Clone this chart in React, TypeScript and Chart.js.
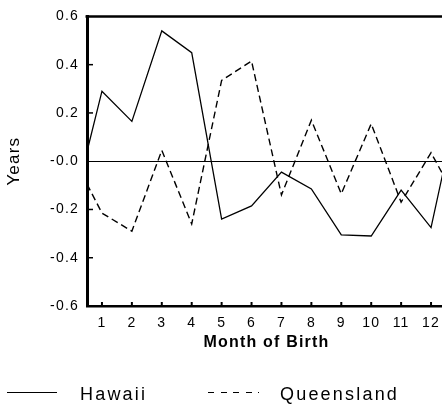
import React, { useEffect, useRef } from "react";
import { Chart, registerables } from "chart.js";

Chart.register(...registerables);

// ---- data ----
const months = [0.5, 1, 2, 3, 4, 5, 6, 7, 8, 9, 10, 11, 12, 12.5];
const hawaii = [0.04, 0.29, 0.165, 0.54, 0.45, -0.24, -0.185, -0.045, -0.115, -0.305, -0.31, -0.12, -0.275, 0.01];
const queensland = [-0.095, -0.215, -0.29, 0.045, -0.26, 0.335, 0.415, -0.14, 0.17, -0.135, 0.155, -0.17, 0.035, -0.078];
const monthTicks = [1, 2, 3, 4, 5, 6, 7, 8, 9, 10, 11, 12];
const yInnerTicks = [-0.4, -0.2, 0.2, 0.4];
const yMin = -0.6;
const yMax = 0.6;
const yStep = 0.2;
const seriesNames = ["Hawaii", "Queensland"];
const xTitle = "Month of Birth";
const yTitle = "Years";

const FONT = "'Liberation Sans', Arial, Helvetica, sans-serif";

const framePlugin = {
  id: "frame",
  beforeDraw(chart: any) {
    try {
      (chart.ctx as any).letterSpacing = "1.2px";
    } catch (e) {}
  },
  afterDraw(chart: any) {
    const ctx = chart.ctx;
    const { left, right, top, bottom } = chart.chartArea;
    const xs = chart.scales.x;
    const ys = chart.scales.y;
    ctx.save();
    ctx.strokeStyle = "#000";
    // top frame line
    ctx.lineWidth = 2.5;
    ctx.beginPath();
    ctx.moveTo(left - 1.5, top);
    ctx.lineTo(right, top);
    ctx.stroke();
    // inward y ticks
    ctx.lineWidth = 1.5;
    yInnerTicks.forEach((v) => {
      const y = ys.getPixelForValue(v);
      ctx.beginPath();
      ctx.moveTo(left, y);
      ctx.lineTo(left + 6, y);
      ctx.stroke();
    });
    // inward x ticks
    ctx.lineWidth = 2;
    monthTicks.forEach((m) => {
      const x = xs.getPixelForValue(m);
      ctx.beginPath();
      ctx.moveTo(x, bottom);
      ctx.lineTo(x, bottom - 4);
      ctx.stroke();
    });
    ctx.restore();
  },
};

export default function App() {
  const ref = useRef<HTMLCanvasElement | null>(null);

  useEffect(() => {
    if (!ref.current) return;
    const chart = new Chart(ref.current, {
      type: "line",
      data: {
        datasets: [
          {
            label: seriesNames[0],
            data: months.map((m, i) => ({ x: m, y: hawaii[i] })),
            borderColor: "#000",
            borderWidth: 1.3,
            pointRadius: 0,
            tension: 0,
            fill: false,
          },
          {
            label: seriesNames[1],
            data: months.map((m, i) => ({ x: m, y: queensland[i] })),
            borderColor: "#000",
            borderWidth: 1.4,
            borderDash: [7, 4],
            pointRadius: 0,
            tension: 0,
            fill: false,
          },
        ],
      },
      options: {
        animation: false,
        responsive: false,
        devicePixelRatio: 1,
        layout: { padding: { left: 0, top: 11, right: 34, bottom: 45 } },
        plugins: { legend: { display: false }, tooltip: { enabled: false } },
        scales: {
          x: {
            type: "linear",
            min: 0.5,
            max: 12.5,
            afterBuildTicks: (s: any) => {
              s.ticks = monthTicks.map((v) => ({ value: v }));
            },
            afterFit: (s: any) => {
              s.height = 54;
            },
            grid: { display: false, drawTicks: false },
            border: { display: true, color: "#000", width: 2.5 },
            ticks: {
              autoSkip: false,
              maxRotation: 0,
              padding: 9,
              color: "#000",
              font: { family: FONT, size: 14 },
              callback: (v: any) => String(v),
            },
            title: {
              display: true,
              text: xTitle,
              color: "#000",
              font: { family: FONT, size: 16, weight: "bold" },
              padding: { top: 0, bottom: 8 },
            },
          },
          y: {
            type: "linear",
            min: yMin,
            max: yMax,
            afterFit: (s: any) => {
              s.width = 87;
            },
            grid: {
              display: true,
              drawTicks: false,
              lineWidth: 1,
              color: (c: any) => (c.tick && Math.abs(c.tick.value) < 1e-9 ? "#000" : "rgba(0,0,0,0)"),
            },
            border: { display: true, color: "#000", width: 3 },
            ticks: {
              stepSize: yStep,
              padding: 8,
              color: "#000",
              font: { family: FONT, size: 14 },
              callback: (v: any) => (Math.abs(v) < 1e-9 ? "-0.0" : Number(v).toFixed(1)),
            },
            title: {
              display: true,
              text: yTitle,
              color: "#000",
              font: { family: FONT, size: 17 },
              padding: { top: 4, bottom: 0 },
            },
          },
        },
      },
      plugins: [framePlugin],
    });
    return () => chart.destroy();
  }, []);

  const legendText: React.CSSProperties = {
    position: "absolute",
    top: 384.5,
    fontFamily: FONT,
    fontSize: 18,
    lineHeight: "18px",
    letterSpacing: "2.2px",
    color: "#000",
    whiteSpace: "nowrap",
  };

  return (
    <div
      style={{
        position: "fixed",
        left: 0,
        top: 0,
        width: 442,
        height: 405,
        overflow: "hidden",
        background: "#fff",
      }}
    >
      <canvas ref={ref} width={480} height={405} style={{ display: "block", width: 480, height: 405 }} />
      <div style={{ position: "absolute", left: 7, top: 392, width: 50, height: 1.3, background: "#000" }} />
      <div style={{ ...legendText, left: 80 }}>{seriesNames[0]}</div>
      <div
        style={{
          position: "absolute",
          left: 208,
          top: 392,
          width: 51,
          height: 1.3,
          background: "repeating-linear-gradient(90deg, #000 0px, #000 6px, rgba(0,0,0,0) 6px, rgba(0,0,0,0) 12.5px)",
        }}
      />
      <div style={{ ...legendText, left: 280 }}>{seriesNames[1]}</div>
    </div>
  );
}
